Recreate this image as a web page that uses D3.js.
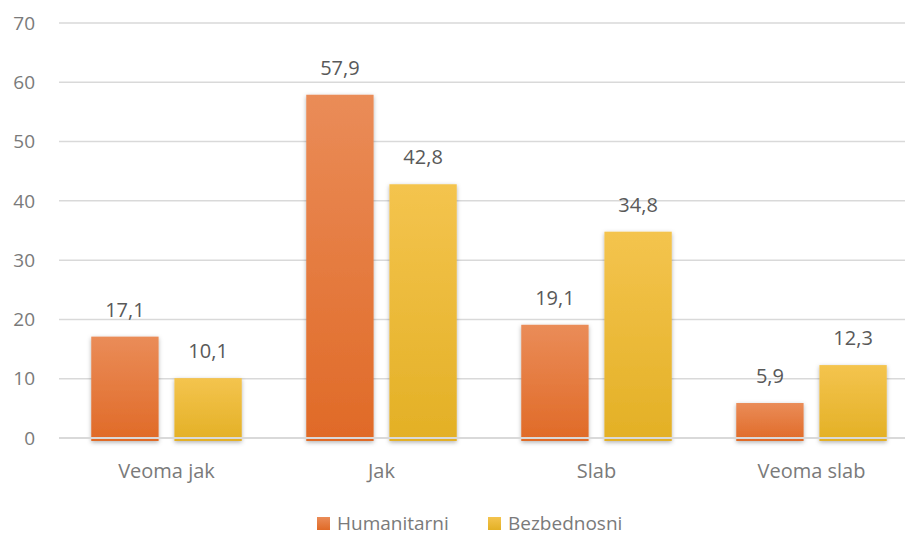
<!DOCTYPE html>
<html>
<head>
<meta charset="utf-8">
<script src="https://cdn.jsdelivr.net/npm/d3@7"></script>
<style>
  body { margin: 0; background: #fff; }
  text { font-family: "Open Sans", "Noto Sans", sans-serif; fill: #7a7a7a; }
</style>
</head>
<body>
<div id="chart"></div>
<script>
// chart data
const categories = ['Veoma jak', 'Jak', 'Slab', 'Veoma slab'];
const seriesNames = ['Humanitarni', 'Bezbednosni'];
const humanitarni = [17.1, 57.9, 19.1, 5.9];
const bezbednosni = [10.1, 42.8, 34.8, 12.3];
const yTicks = [0, 10, 20, 30, 40, 50, 60, 70];

const width = 906, height = 535;
const colors = {
    Humanitarni: ['#ea8c58', '#e06a27'],
    Bezbednosni: ['#f4c44e', '#e3b025']
};

let svg = d3.select('#chart').append('svg')
    .attr('width', width)
    .attr('height', height);

let defs = svg.append('defs');
seriesNames.forEach(function(s, i) {
    let g = defs.append('linearGradient')
        .attr('id', 'grad' + i)
        .attr('x1', 0).attr('y1', 0).attr('x2', 0).attr('y2', 1);
    g.append('stop').attr('offset', '0%').attr('stop-color', colors[s][0]);
    g.append('stop').attr('offset', '100%').attr('stop-color', colors[s][1]);
});
let shadow = defs.append('filter').attr('id', 'shadow')
    .attr('x', '-20%').attr('y', '-10%').attr('width', '140%').attr('height', '130%');
shadow.append('feDropShadow')
    .attr('dx', 0).attr('dy', 1.5).attr('stdDeviation', 2)
    .attr('flood-color', '#000').attr('flood-opacity', 0.3);

let y = d3.scaleLinear().domain([0, 70]).range([438, 23]);
let x0 = d3.scaleBand().domain(categories).range([59, 919])
    .paddingInner(0.3).paddingOuter(0.15);
let x1 = d3.scaleBand().domain(seriesNames).range([0, x0.bandwidth()])
    .paddingInner(0.19);

// gridlines
svg.append('g').selectAll('line')
    .data(yTicks.filter(function(d) {return d > 0}))
    .enter().append('line')
    .attr('x1', 59).attr('x2', 905)
    .attr('y1', function(d) {return y(d)})
    .attr('y2', function(d) {return y(d)})
    .attr('stroke', '#d9d9d9')
    .attr('stroke-width', 1.5);

// y tick labels
svg.append('g').selectAll('text')
    .data(yTicks)
    .enter().append('text')
    .attr('x', 35)
    .attr('y', function(d) {return y(d)})
    .attr('dy', '0.35em')
    .attr('text-anchor', 'end')
    .style('font-size', '19px')
    .text(function(d) {return d});

let rows = categories.map(function(c, i) {
    return {cat: c, values: [humanitarni[i], bezbednosni[i]]};
});

let groups = svg.append('g').selectAll('g')
    .data(rows)
    .enter().append('g')
    .attr('transform', function(d) {return 'translate(' + x0(d.cat) + ',0)'});

groups.selectAll('rect')
    .data(function(d) {return d.values.map(function(v, i) {return {s: seriesNames[i], i: i, v: v}})})
    .enter().append('rect')
    .attr('x', function(d) {return x1(d.s)})
    .attr('y', function(d) {return y(d.v)})
    .attr('width', x1.bandwidth())
    .attr('height', function(d) {return y(0) - y(d.v) + 3})
    .attr('fill', function(d) {return 'url(#grad' + d.i + ')'})
    .attr('filter', 'url(#shadow)');

groups.selectAll('.val')
    .data(function(d) {return d.values.map(function(v, i) {return {s: seriesNames[i], v: v}})})
    .enter().append('text')
    .attr('class', 'val')
    .attr('x', function(d) {return x1(d.s) + x1.bandwidth() / 2})
    .attr('y', function(d) {return y(d.v) - 20})
    .attr('text-anchor', 'middle')
    .style('font-size', '20px')
    .style('fill', '#595959')
    .text(function(d) {return d3.format('.1f')(d.v).replace('.', ',')});

// baseline on top of bars
svg.append('line')
    .attr('x1', 59).attr('x2', 905)
    .attr('y1', y(0)).attr('y2', y(0))
    .attr('stroke', '#d9d9d9')
    .attr('stroke-width', 2);

// category labels
svg.append('g').selectAll('text')
    .data(categories)
    .enter().append('text')
    .attr('x', function(d) {return x0(d) + x0.bandwidth() / 2})
    .attr('y', 478)
    .attr('text-anchor', 'middle')
    .style('font-size', '20px')
    .text(function(d) {return d});

// legend
let legendX = [317, 488];
let legend = svg.append('g').selectAll('g')
    .data(seriesNames)
    .enter().append('g')
    .attr('transform', function(d, i) {return 'translate(' + legendX[i] + ',517)'});
legend.append('rect')
    .attr('width', 13).attr('height', 13)
    .attr('fill', function(d, i) {return 'url(#grad' + i + ')'});
legend.append('text')
    .attr('x', 20).attr('y', 12.5)
    .style('font-size', '19px')
    .text(function(d) {return d});
</script>
</body>
</html>
